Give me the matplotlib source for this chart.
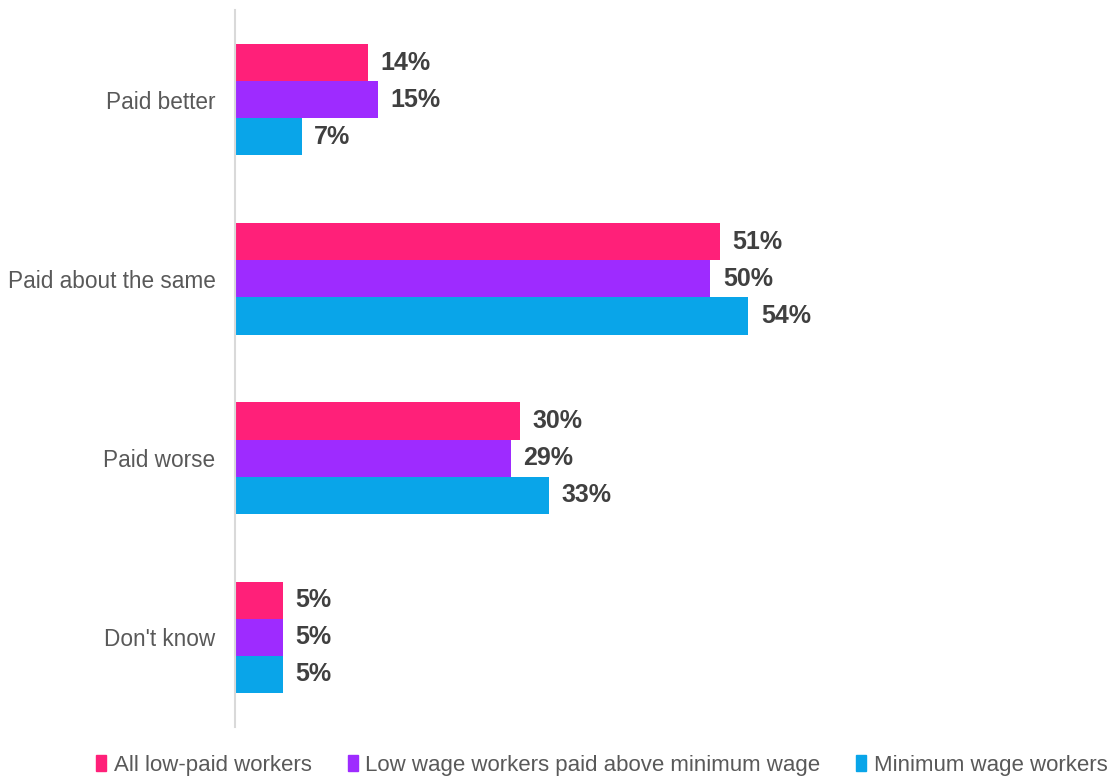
import numpy as np
import matplotlib.pyplot as plt
from matplotlib.patches import Patch

plt.rcParams['font.family'] = ['Liberation Sans', 'DejaVu Sans']

categories = ['Paid better', 'Paid about the same', 'Paid worse', "Don't know"]
series_names = ['All low-paid workers',
                'Low wage workers paid above minimum wage',
                'Minimum wage workers']
all_low_paid = [14, 51, 30, 5]
above_minimum = [15, 50, 29, 5]
minimum_wage = [7, 54, 33, 5]
colors = ['#FF2079', '#9E2BFF', '#09A5E9']

fig = plt.figure(figsize=(11.19, 7.78), dpi=100)
ax = fig.add_axes([235 / 1119, 1 - 727 / 778, 570 / 1119, 717 / 778])

y = np.arange(len(categories))
h = 0.207
for i, (vals, col) in enumerate(zip([all_low_paid, above_minimum, minimum_wage], colors)):
    pos = y + (i - 1) * h
    ax.barh(pos, vals, height=h, color=col, edgecolor='none')
    for p, v in zip(pos, vals):
        ax.text(v + 1.35, p, f'{v}%', va='center', ha='left', fontsize=18,
                fontweight='bold', color='#404040')

ax.set_xlim(0, 60)
ax.set_ylim(3.5, -0.5)
ax.set_yticks(y)
ax.set_yticklabels(categories, fontsize=16.3, color='#595959')
ax.tick_params(axis='y', length=0, pad=14)
ax.set_xticks([])
for s in ['top', 'right', 'bottom']:
    ax.spines[s].set_visible(False)
ax.spines['left'].set_color('#D9D9D9')
ax.spines['left'].set_linewidth(1.5)

handles = [Patch(color=c) for c in colors]
fig.legend(handles, series_names, loc='center', bbox_to_anchor=(0.538, 1 - 765 / 778),
           ncol=3, frameon=False, fontsize=16, handlelength=0.45, handleheight=0.7,
           handletextpad=0.35, columnspacing=1.6, labelcolor='#595959')

fig.savefig('out.png', dpi=100)
